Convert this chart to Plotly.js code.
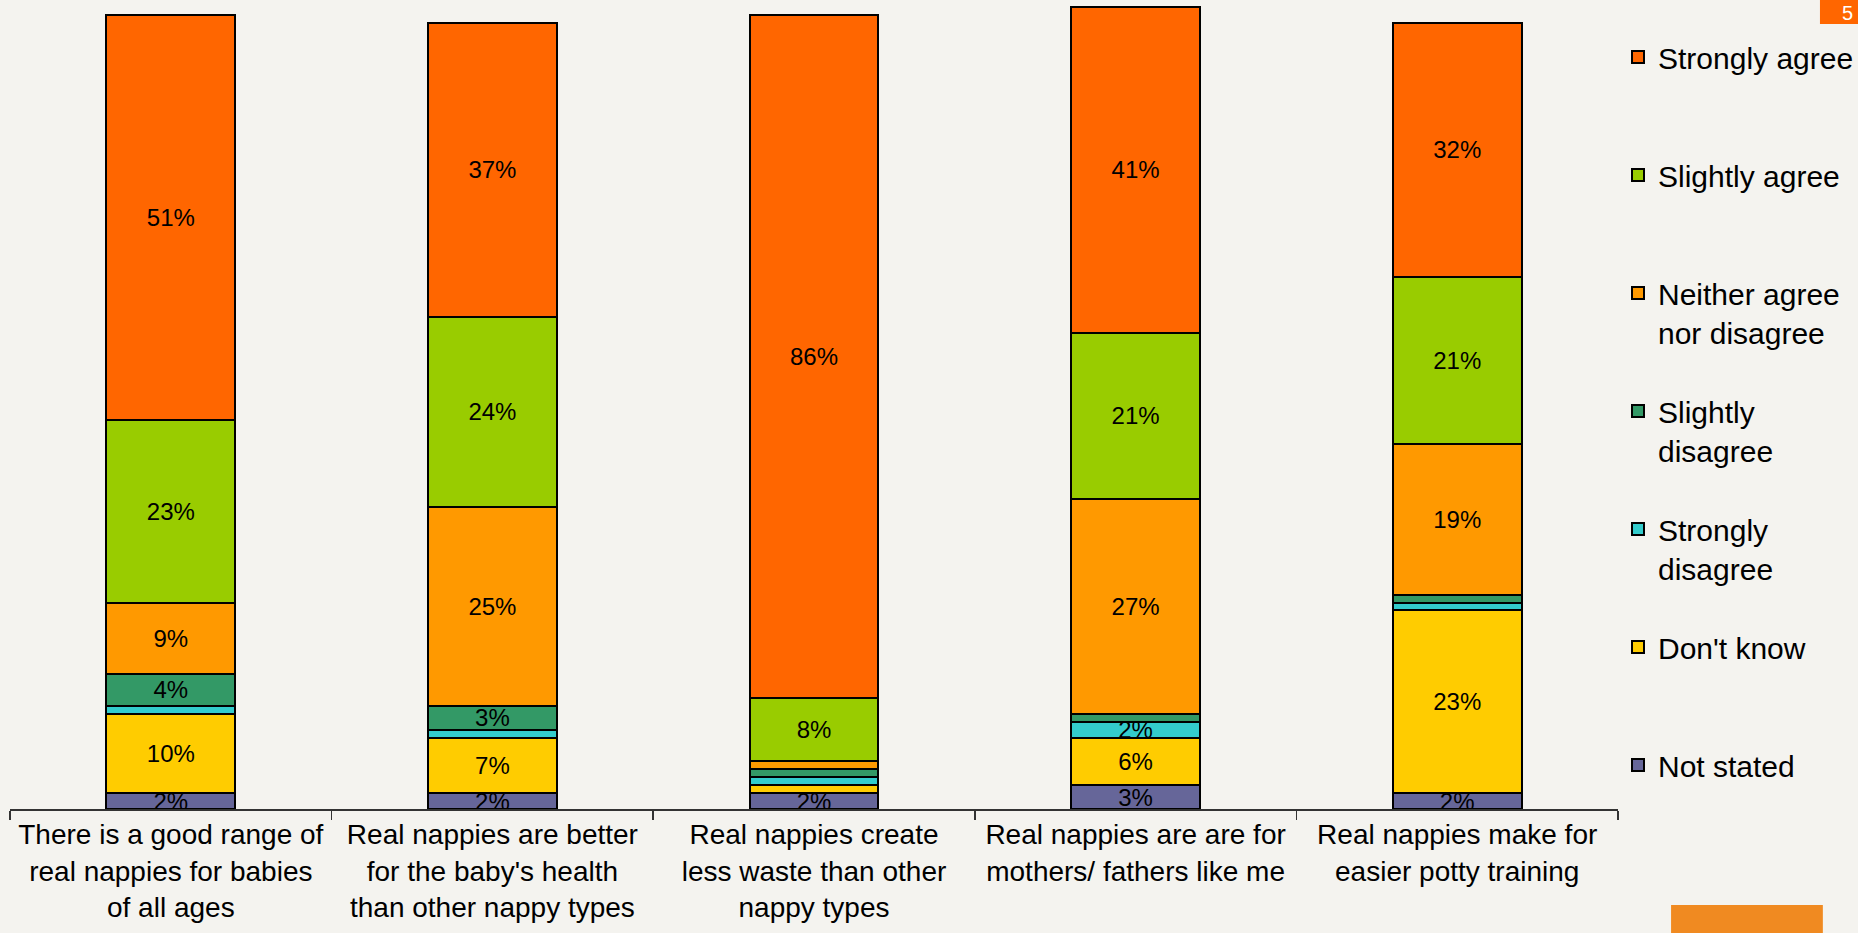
<!DOCTYPE html>
<html>
<head>
<meta charset="utf-8">
<script src="https://cdn.plot.ly/plotly-3.0.1.min.js"></script>
<style>
  html, body { margin: 0; padding: 0; background: #F4F3EF; }
  #chart { width: 1858px; height: 933px; }
</style>
</head>
<body>
<div id="chart"></div>
<script>
const categories = [
  "There is a good range of<br>real nappies for babies<br>of all ages",
  "Real nappies are better<br>for the baby's health<br>than other nappy types",
  "Real nappies create<br>less waste than other<br>nappy types",
  "Real nappies are are for<br>mothers/ fathers like me",
  "Real nappies make for<br>easier potty training"
];
// legend labels; single-line ones get an empty second line so all legend rows are evenly spaced
const seriesNames = [
  "Not stated<br> ",
  "Don't know<br> ",
  "Strongly<br>disagree",
  "Slightly<br>disagree",
  "Neither agree<br>nor disagree",
  "Slightly agree<br> ",
  "Strongly agree<br> "
];
const notStated        = [2, 2, 2, 3, 2];
const dontKnow         = [10, 7, 1, 6, 23];
const stronglyDisagree = [1, 1, 1, 2, 1];
const slightlyDisagree = [4, 3, 1, 1, 1];
const neither          = [9, 25, 1, 27, 19];
const slightlyAgree    = [23, 24, 8, 21, 21];
const stronglyAgree    = [51, 37, 86, 41, 32];

const seriesValues = [notStated, dontKnow, stronglyDisagree, slightlyDisagree, neither, slightlyAgree, stronglyAgree];
const seriesColors = ["#666699", "#FFCC00", "#33CCCC", "#339966", "#FF9900", "#99CC00", "#FF6600"];

const FONT = "Liberation Sans, Arial, sans-serif";

const traces = seriesValues.map((vals, i) => ({
  type: "bar",
  name: seriesNames[i],
  x: categories,
  y: vals,
  text: vals.map(v => (v >= 2 ? v + "%" : "")),
  textposition: "inside",
  insidetextanchor: "middle",
  textangle: 0,
  constraintext: "none",
  cliponaxis: true,
  textfont: { family: FONT, size: 24, color: "#000000" },
  marker: { color: seriesColors[i], line: { color: "#000000", width: 2 } },
  legendgroup: "g" + i,
  legendrank: seriesValues.length - i,
  hoverinfo: "y"
}));

const layout = {
  width: 1858,
  height: 933,
  paper_bgcolor: "#F4F3EF",
  plot_bgcolor: "#F4F3EF",
  barmode: "stack",
  bargap: 0.6,
  margin: { l: 9.5, r: 240, t: 1, b: 124, autoexpand: false },
  font: { family: FONT, color: "#000000" },
  xaxis: {
    type: "category",
    tickson: "boundaries",
    ticks: "outside",
    ticklen: 9,
    tickwidth: 1.5,
    tickcolor: "#333333",
    showline: true,
    linecolor: "#333333",
    linewidth: 1.5,
    showgrid: false,
    tickfont: { family: FONT, size: 28, color: "#000000" }
  },
  yaxis: {
    range: [0, 101.76],
    visible: false,
    showgrid: false,
    zeroline: false
  },
  legend: {
    x: 1.0,
    xanchor: "left",
    y: 0.963,
    yanchor: "top",
    traceorder: "grouped",
    tracegroupgap: 37,
    valign: "top",
    bgcolor: "rgba(0,0,0,0)",
    font: { family: FONT, size: 30, color: "#000000" }
  },
  shapes: [
    { type: "rect", xref: "paper", yref: "paper", x0: 1.1256, x1: 1.16, y0: 0.9715, y1: 1.01,
      fillcolor: "#FF6600", line: { width: 0 } },
    { type: "rect", xref: "paper", yref: "paper", x0: 1.033, x1: 1.1274, y0: -0.16, y1: -0.1188,
      fillcolor: "#F08A21", line: { width: 0 } }
  ],
  annotations: [
    { xref: "paper", yref: "paper", x: 1.1425, y: 0.985, xanchor: "center", yanchor: "middle",
      text: "5", showarrow: false, font: { family: FONT, size: 20, color: "#FFFFFF" } }
  ],
  showlegend: true
};

Plotly.newPlot("chart", traces, layout, { displayModeBar: false, staticPlot: true });
</script>
</body>
</html>
